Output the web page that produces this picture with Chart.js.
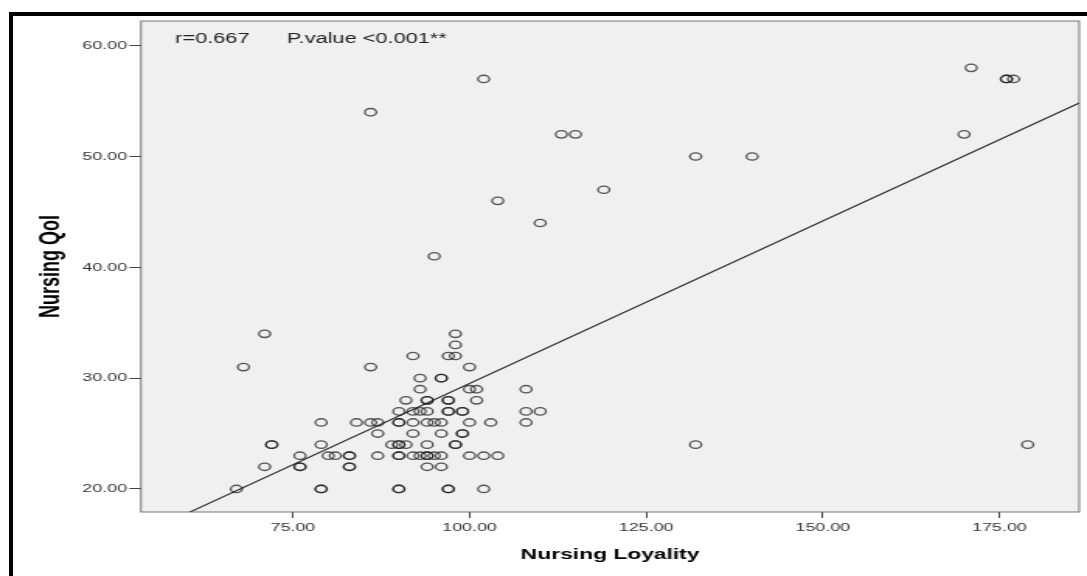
<!DOCTYPE html>
<html>
<head>
<meta charset="utf-8">
<title>Nursing Loyality vs Nursing Qol</title>
<script src="https://cdn.jsdelivr.net/npm/chart.js@4.4.0/dist/chart.umd.min.js"></script>
<style>
  html, body { margin: 0; padding: 0; background: #fff; }
  #wrap { position: relative; width: 1087px; height: 576px; overflow: hidden; }
  /* garis hitam tebal di kiri dan atas */
  #frame { position: absolute; left: 9px; top: 12px; right: 0; bottom: 0;
           border-left: 4px solid #000; border-top: 4px solid #000; }
  #scatter { position: absolute; left: 0; top: 0; }
</style>
</head>
<body>
<div id="wrap">
  <div id="frame"></div>
  <!-- kanvas digambar 700px lalu direnggangkan ke 1087px seperti gambar asli -->
  <canvas id="scatter" width="700" height="576" style="width:1087px;height:576px"></canvas>
</div>
<script>
// Data, satu baris per nilai Qol
const loyalty = [
  102, 86, 104, 110, 95, 113, 115, 132, 140, 119, 171, 176, 176, 177, 170, 132, 179,
  71, 98,
  98,
  92, 97, 98,
  68, 86, 100,
  93, 96, 96,
  93, 100, 101, 108,
  91, 94, 94, 97, 97, 101,
  90, 92, 93, 94, 97, 97, 99, 99, 108, 110,
  79, 84, 86, 87, 90, 90, 92, 94, 95, 96, 100, 103, 108,
  87, 92, 96, 99, 99,
  72, 72, 79, 89, 90, 90, 91, 94, 98, 98,
  76, 80, 81, 83, 83, 87, 90, 90, 92, 93, 94, 94, 95, 96, 100, 102, 104,
  71, 76, 76, 83, 83, 94, 96,
  67, 79, 79, 90, 90, 97, 97, 102
];
const qol = [
  57, 54, 46, 44, 41, 52, 52, 50, 50, 47, 58, 57, 57, 57, 52, 24, 24,
  34, 34,
  33,
  32, 32, 32,
  31, 31, 31,
  30, 30, 30,
  29, 29, 29, 29,
  28, 28, 28, 28, 28, 28,
  27, 27, 27, 27, 27, 27, 27, 27, 27, 27,
  26, 26, 26, 26, 26, 26, 26, 26, 26, 26, 26, 26, 26,
  25, 25, 25, 25, 25,
  24, 24, 24, 24, 24, 24, 24, 24, 24, 24,
  23, 23, 23, 23, 23, 23, 23, 23, 23, 23, 23, 23, 23, 23, 23, 23, 23,
  22, 22, 22, 22, 22, 22, 22,
  20, 20, 20, 20, 20, 20, 20, 20
];

// Garis regresi (perkiraan dari gambar)
const fitSlope = 0.2933;
const fitIntercept = 0.19;

// Tick sumbu
const xTicks = [75, 100, 125, 150, 175];
const yTicks = [20, 30, 40, 50, 60];
const xRange = [53.5, 186.3];
const yRange = [17.92, 62.23];

// Teks anotasi
const corrLabel = 'r=0.667';
const pLabel = 'P.value <0.001**';

const FONT = '"Liberation Sans", Arial, Helvetica, sans-serif';

// Latar abu-abu, bingkai plot dan teks anotasi
const plotFrame = {
  id: 'plotFrame',
  beforeDraw(chart) {
    const { ctx, chartArea: a } = chart;
    ctx.save();
    ctx.fillStyle = '#f0f0f0';
    ctx.fillRect(a.left, a.top, a.right - a.left, a.bottom - a.top);
    ctx.restore();
  },
  afterDatasetsDraw(chart) {
    const { ctx, chartArea: a } = chart;
    ctx.save();
    ctx.strokeStyle = '#555';
    ctx.lineWidth = 0.8;
    ctx.strokeRect(a.left, a.top, a.right - a.left, a.bottom - a.top);
    ctx.fillStyle = '#222';
    ctx.font = '14px ' + FONT;
    ctx.textBaseline = 'middle';
    ctx.fillText(corrLabel, a.left + 22, a.top + 18);
    ctx.fillText(pLabel, a.left + 94, a.top + 18);
    ctx.restore();
  }
};

const points = loyalty.map((x, i) => ({ x: x, y: qol[i] }));
const fitLine = xRange.map(x => ({ x: x, y: fitSlope * x + fitIntercept }));

new Chart(document.getElementById('scatter'), {
  type: 'scatter',
  data: {
    datasets: [
      {
        label: 'Nursing Qol',
        data: points,
        pointStyle: 'circle',
        pointRadius: 3.7,
        pointBorderWidth: 1.3,
        borderColor: 'rgba(25, 25, 25, 0.72)',
        backgroundColor: 'rgba(0, 0, 0, 0)',
        pointHoverRadius: 3.7
      },
      {
        type: 'line',
        label: 'Fit',
        data: fitLine,
        borderColor: '#2b2b2b',
        borderWidth: 1.1,
        pointRadius: 0,
        fill: false,
        showLine: true
      }
    ]
  },
  options: {
    responsive: false,
    animation: false,
    events: [],
    layout: { padding: { left: 0, right: 1.4, top: 21, bottom: 0 } },
    plugins: {
      legend: { display: false },
      tooltip: { enabled: false }
    },
    scales: {
      x: {
        type: 'linear',
        min: xRange[0],
        max: xRange[1],
        afterBuildTicks: axis => { axis.ticks = xTicks.map(v => ({ value: v })); },
        afterFit: axis => { axis.height = 64; },
        grid: { drawOnChartArea: false, drawTicks: true, tickLength: 6, color: '#444', lineWidth: 1 },
        border: { display: false },
        ticks: {
          padding: 3,
          maxRotation: 0,
          color: '#333',
          font: { family: FONT, size: 11.5 },
          callback: v => Number(v).toFixed(2)
        },
        title: {
          display: true,
          text: 'Nursing Loyality',
          color: '#000',
          font: { family: FONT, size: 14.7, weight: 'bold' },
          padding: { top: 0, bottom: 12 }
        }
      },
      y: {
        type: 'linear',
        min: yRange[0],
        max: yRange[1],
        afterBuildTicks: axis => { axis.ticks = yTicks.map(v => ({ value: v })); },
        afterFit: axis => { axis.width = 90.8; },
        grid: { drawOnChartArea: false, drawTicks: true, tickLength: 7.5, color: '#444', lineWidth: 1 },
        border: { display: false },
        ticks: {
          padding: 1.5,
          color: '#333',
          font: { family: FONT, size: 11.5 },
          callback: v => Number(v).toFixed(2)
        },
        title: {
          display: true,
          text: 'Nursing Qol',
          color: '#000',
          font: { family: FONT, size: 18, weight: 'bold' },
          padding: { top: 22, bottom: 0 }
        }
      }
    }
  },
  plugins: [plotFrame]
});
</script>
</body>
</html>
